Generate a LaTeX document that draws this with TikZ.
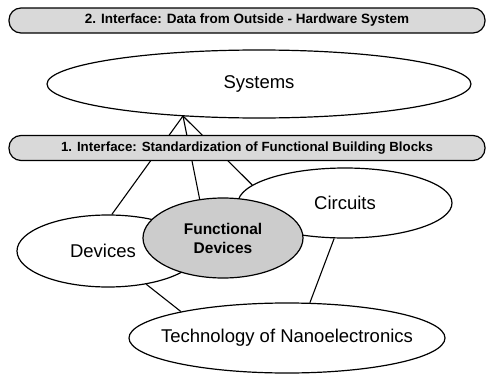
\documentclass[tikz,border=0pt]{standalone}
\usepackage{fontspec}
\setmainfont{Liberation Sans}
\usetikzlibrary{shapes.geometric}
\definecolor{barfill}{gray}{0.85}
\definecolor{corefill}{gray}{0.8}
\tikzset{
  blob/.style={ellipse, draw, line width=1.2pt, fill=white, inner sep=0pt,
    font=\fontsize{18.5}{21}\selectfont},
  interface/.style={draw, line width=1.2pt, fill=barfill, rounded corners=12pt,
    minimum height=25pt, minimum width=476pt, inner sep=0pt},
  link/.style={line width=1.1pt},
}
\begin{document}
\begin{tikzpicture}[x=1pt, y=-1pt]
\useasboundingbox (0,0) rectangle (488,375);

% the four levels of the hierarchy
\node[blob, minimum width=424pt, minimum height=68pt] (sys) at (259,84) {Systems};
\node[blob, minimum width=182pt, minimum height=72pt] (dev) at (108,251) {\hspace*{-10pt}Devices};
\node[blob, minimum width=214pt, minimum height=70pt] (circ) at (345,203) {Circuits};
\node[blob, fill=corefill, minimum width=160pt, minimum height=80pt, align=center,
      font=\fontsize{15.5}{19}\selectfont\bfseries] (fd) at (223,238) {Functional\\Devices};
\node[blob, minimum width=316pt, minimum height=70pt] (tech) at (287,338)
      {\makebox[0pt]{Technology of Nanoelectronics}};

% connections between the levels
\coordinate (apex) at (183,116);
\draw[link] (apex) -- (dev.84);
\draw[link] (apex) -- (fd.121);
\draw[link] (apex) -- (circ.169);
\draw[link] (dev.-41) -- (tech.166);
\draw[link] (circ.-107) -- (tech.57);

% interface bars
\node[interface, font=\fontsize{13.5}{16}\selectfont\bfseries] (if2) at (247,20.5)
      {2. Interface: Data from Outside - Hardware System};
\node[interface, font=\fontsize{13.3}{16}\selectfont\bfseries] (if1) at (247,148)
      {1. Interface: Standardization of Functional Building Blocks};
\end{tikzpicture}
\end{document}
